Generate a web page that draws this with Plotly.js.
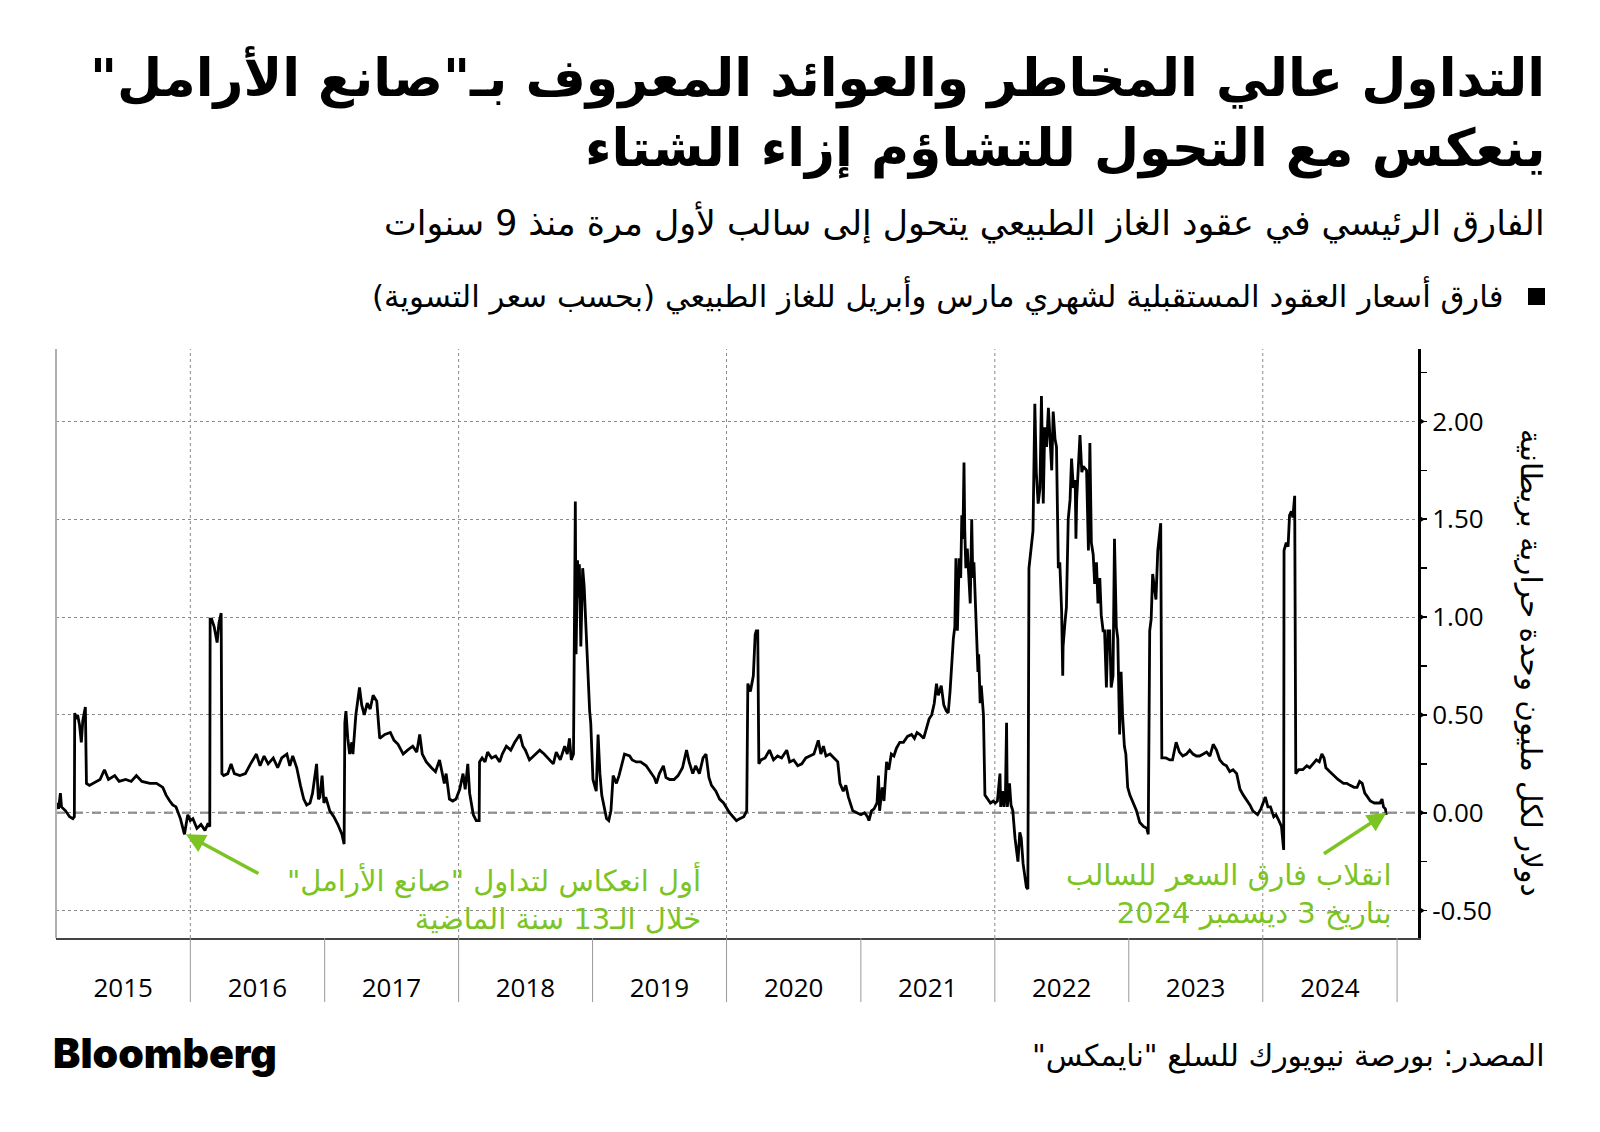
<!DOCTYPE html>
<html><head><meta charset="utf-8">
<script src="https://cdn.plot.ly/plotly-3.0.1.min.js"></script>
<style>html,body{margin:0;padding:0;background:#fff}#chart{width:1600px;height:1132px}</style>
</head><body><div id="chart"></div>
<script>
// Mar-Apr natural gas futures spread (USD / MMBtu)
const y2015 = [['2015-01-02',0.05],['2015-01-07',0.02],['2015-01-12',0.10],['2015-01-15',0.03],['2015-01-26',0.01],['2015-02-06',-0.02],['2015-02-15',-0.03],['2015-02-19',-0.02],['2015-02-20',0.51],['2015-02-23',0.48],['2015-02-28',0.50],['2015-03-05',0.45],['2015-03-10',0.36],['2015-03-14',0.47],['2015-03-21',0.54],['2015-03-24',0.15],['2015-04-01',0.14],['2015-04-19',0.16],['2015-04-30',0.17],['2015-05-12',0.22],['2015-05-23',0.17],['2015-06-09',0.19],['2015-06-21',0.16],['2015-07-09',0.17],['2015-07-24',0.16],['2015-08-07',0.19],['2015-08-22',0.16],['2015-09-13',0.15],['2015-10-01',0.15],['2015-10-18',0.13],['2015-10-27',0.09],['2015-11-06',0.06],['2015-11-14',0.04],['2015-11-23',0.03],['2015-12-05',-0.03],['2015-12-16',-0.11],['2015-12-25',-0.01]];
const y2016 = [['2016-01-01',-0.04],['2016-01-08',-0.03],['2016-01-19',-0.08],['2016-01-30',-0.06],['2016-02-10',-0.09],['2016-02-17',-0.06],['2016-02-23',-0.07],['2016-02-24',0.99],['2016-02-28',0.99],['2016-03-06',0.95],['2016-03-14',0.87],['2016-03-19',0.97],['2016-03-25',1.02],['2016-03-27',0.20],['2016-04-01',0.19],['2016-04-12',0.20],['2016-04-21',0.25],['2016-04-30',0.20],['2016-05-15',0.19],['2016-05-30',0.20],['2016-06-13',0.25],['2016-06-29',0.30],['2016-07-09',0.24],['2016-07-20',0.29],['2016-07-31',0.25],['2016-08-14',0.28],['2016-08-26',0.23],['2016-09-06',0.28],['2016-09-20',0.30],['2016-09-28',0.24],['2016-10-06',0.29],['2016-10-17',0.23],['2016-10-27',0.14],['2016-11-05',0.07],['2016-11-13',0.04],['2016-11-22',0.05],['2016-11-29',0.10],['2016-12-10',0.25],['2016-12-15',0.07],['2016-12-19',0.08],['2016-12-25',0.19],['2016-12-30',0.05]];
const y2017 = [['2017-01-04',0.08],['2017-01-15',0.01],['2017-01-26',-0.02],['2017-02-06',-0.06],['2017-02-17',-0.11],['2017-02-23',-0.16],['2017-02-25',0.46],['2017-02-28',0.52],['2017-03-05',0.38],['2017-03-10',0.30],['2017-03-16',0.36],['2017-03-19',0.30],['2017-03-27',0.50],['2017-04-06',0.64],['2017-04-12',0.55],['2017-04-19',0.50],['2017-04-27',0.56],['2017-05-05',0.53],['2017-05-13',0.60],['2017-05-23',0.57],['2017-05-31',0.38],['2017-06-14',0.40],['2017-06-29',0.41],['2017-07-09',0.37],['2017-07-20',0.35],['2017-08-03',0.30],['2017-08-15',0.32],['2017-08-29',0.34],['2017-09-09',0.31],['2017-09-17',0.40],['2017-09-24',0.30],['2017-10-05',0.26],['2017-10-19',0.23],['2017-10-30',0.21],['2017-11-10',0.27],['2017-11-23',0.15],['2017-11-28',0.20],['2017-12-07',0.07],['2017-12-16',0.06],['2017-12-25',0.07]];
const y2018 = [['2018-01-04',0.12],['2018-01-13',0.20],['2018-01-19',0.12],['2018-01-26',0.25],['2018-01-31',0.10],['2018-02-05',0.04],['2018-02-10',-0.01],['2018-02-18',-0.04],['2018-02-26',-0.04],['2018-02-27',0.26],['2018-03-06',0.28],['2018-03-14',0.26],['2018-03-21',0.31],['2018-04-01',0.28],['2018-04-12',0.29],['2018-04-23',0.26],['2018-04-30',0.30],['2018-05-11',0.34],['2018-05-23',0.32],['2018-06-03',0.36],['2018-06-17',0.40],['2018-06-25',0.34],['2018-07-02',0.32],['2018-07-13',0.27],['2018-07-24',0.29],['2018-08-10',0.32],['2018-08-22',0.30],['2018-09-06',0.27],['2018-09-16',0.25],['2018-09-24',0.31],['2018-10-05',0.27],['2018-10-17',0.34],['2018-10-24',0.30],['2018-10-30',0.38],['2018-11-04',0.27],['2018-11-10',0.30],['2018-11-15',1.59],['2018-11-17',0.81],['2018-11-21',1.29],['2018-11-24',1.10],['2018-11-26',1.27],['2018-11-30',0.85],['2018-12-05',1.25],['2018-12-09',1.16],['2018-12-14',0.95],['2018-12-18',0.70],['2018-12-24',0.52],['2018-12-27',0.46]];
const y2019 = [['2019-01-02',0.17],['2019-01-08',0.13],['2019-01-11',0.11],['2019-01-16',0.40],['2019-01-21',0.20],['2019-01-26',0.09],['2019-01-30',0.05],['2019-02-08',-0.03],['2019-02-14',-0.04],['2019-02-20',0.01],['2019-02-26',0.19],['2019-03-07',0.15],['2019-03-14',0.19],['2019-03-29',0.30],['2019-04-12',0.29],['2019-04-19',0.27],['2019-04-30',0.26],['2019-05-12',0.26],['2019-05-27',0.24],['2019-06-07',0.21],['2019-06-18',0.18],['2019-06-24',0.15],['2019-07-02',0.20],['2019-07-13',0.24],['2019-07-20',0.18],['2019-07-30',0.17],['2019-08-11',0.17],['2019-08-22',0.19],['2019-09-03',0.23],['2019-09-14',0.32],['2019-09-21',0.26],['2019-10-01',0.20],['2019-10-09',0.24],['2019-10-19',0.20],['2019-10-29',0.28],['2019-11-06',0.30],['2019-11-14',0.18],['2019-11-21',0.14],['2019-12-03',0.11],['2019-12-13',0.07],['2019-12-24',0.05]];
const y2020 = [['2020-01-09',0.00],['2020-01-19',-0.02],['2020-01-28',-0.04],['2020-02-06',-0.03],['2020-02-17',-0.02],['2020-02-25',0.01],['2020-02-28',0.66],['2020-03-06',0.62],['2020-03-10',0.66],['2020-03-14',0.70],['2020-03-19',0.91],['2020-03-22',0.93],['2020-03-26',0.93],['2020-03-29',0.25],['2020-04-04',0.27],['2020-04-15',0.28],['2020-04-27',0.32],['2020-05-08',0.27],['2020-05-19',0.29],['2020-05-30',0.28],['2020-06-13',0.32],['2020-06-21',0.26],['2020-07-02',0.27],['2020-07-13',0.24],['2020-07-24',0.25],['2020-08-04',0.28],['2020-08-15',0.29],['2020-08-26',0.30],['2020-09-07',0.37],['2020-09-14',0.30],['2020-09-21',0.34],['2020-09-28',0.29],['2020-10-09',0.30],['2020-10-19',0.28],['2020-10-30',0.26],['2020-11-05',0.15],['2020-11-14',0.11],['2020-11-21',0.14],['2020-11-28',0.08],['2020-12-10',0.01],['2020-12-20',0.00]];
const y2021 = [['2021-01-01',-0.01],['2021-01-11',0.00],['2021-01-19',-0.02],['2021-01-23',-0.04],['2021-01-30',0.01],['2021-02-06',0.02],['2021-02-14',0.05],['2021-02-18',0.19],['2021-02-21',0.01],['2021-02-28',0.13],['2021-03-05',0.06],['2021-03-12',0.26],['2021-03-18',0.22],['2021-03-25',0.30],['2021-04-01',0.29],['2021-04-08',0.33],['2021-04-17',0.36],['2021-04-27',0.36],['2021-05-08',0.39],['2021-05-19',0.40],['2021-05-27',0.38],['2021-06-03',0.41],['2021-06-11',0.40],['2021-06-21',0.38],['2021-06-29',0.44],['2021-07-06',0.48],['2021-07-13',0.50],['2021-07-20',0.56],['2021-07-26',0.66],['2021-07-31',0.60],['2021-08-08',0.65],['2021-08-15',0.55],['2021-08-22',0.52],['2021-08-27',0.51],['2021-09-01',0.62],['2021-09-06',0.80],['2021-09-10',0.89],['2021-09-14',0.95],['2021-09-17',1.30],['2021-09-21',0.93],['2021-09-26',1.30],['2021-09-30',1.20],['2021-10-03',1.52],['2021-10-06',1.40],['2021-10-09',1.79],['2021-10-11',1.45],['2021-10-14',1.25],['2021-10-18',1.35],['2021-10-22',1.18],['2021-10-26',1.07],['2021-10-30',1.50],['2021-11-02',1.20],['2021-11-05',1.28],['2021-11-09',1.05],['2021-11-13',0.79],['2021-11-16',0.72],['2021-11-18',0.81],['2021-11-22',0.56],['2021-11-25',0.65],['2021-11-29',0.55],['2021-12-01',0.50],['2021-12-05',0.09],['2021-12-13',0.07],['2021-12-20',0.05],['2021-12-28',0.06]];
const y2022 = [['2022-01-02',0.05],['2022-01-08',0.06],['2022-01-15',0.20],['2022-01-17',0.03],['2022-01-22',0.11],['2022-01-26',0.03],['2022-01-30',0.10],['2022-02-02',0.46],['2022-02-04',0.03],['2022-02-10',0.15],['2022-02-14',0.04],['2022-02-19',0.01],['2022-02-25',-0.13],['2022-03-05',-0.25],['2022-03-10',-0.10],['2022-03-14',-0.13],['2022-03-19',-0.26],['2022-03-28',-0.38],['2022-04-01',-0.39],['2022-04-04',1.25],['2022-04-10',1.34],['2022-04-15',1.44],['2022-04-20',2.09],['2022-04-24',1.74],['2022-04-29',1.58],['2022-05-04',1.66],['2022-05-08',2.13],['2022-05-13',1.58],['2022-05-17',1.97],['2022-05-22',1.87],['2022-05-27',2.07],['2022-05-31',1.89],['2022-06-05',1.75],['2022-06-09',2.05],['2022-06-14',1.91],['2022-06-18',1.87],['2022-06-23',1.25],['2022-06-27',1.28],['2022-07-02',1.03],['2022-07-05',0.70],['2022-07-06',0.85],['2022-07-11',0.97],['2022-07-15',1.05],['2022-07-20',1.50],['2022-07-25',1.60],['2022-07-29',1.81],['2022-08-03',1.66],['2022-08-08',1.70],['2022-08-10',1.40],['2022-08-12',1.60],['2022-08-17',1.79],['2022-08-21',1.93],['2022-08-26',1.74],['2022-08-30',1.77],['2022-09-08',1.75],['2022-09-13',1.34],['2022-09-17',1.89],['2022-09-21',1.38],['2022-09-26',1.32],['2022-09-30',1.17],['2022-10-05',1.28],['2022-10-09',1.07],['2022-10-14',1.20],['2022-10-18',1.01],['2022-10-23',0.93],['2022-10-27',0.93],['2022-11-01',0.64],['2022-11-05',0.93],['2022-11-10',0.93],['2022-11-14',0.64],['2022-11-19',0.70],['2022-11-23',1.40],['2022-11-28',0.95],['2022-12-02',0.89],['2022-12-07',0.40],['2022-12-11',0.72],['2022-12-15',0.50],['2022-12-20',0.34],['2022-12-24',0.30],['2022-12-29',0.13]];
const y2023 = [['2023-01-04',0.09],['2023-01-13',0.05],['2023-01-22',0.01],['2023-01-31',-0.05],['2023-02-10',-0.07],['2023-02-19',-0.08],['2023-02-23',-0.11],['2023-02-27',0.93],['2023-03-03',0.99],['2023-03-07',1.22],['2023-03-12',1.14],['2023-03-16',1.09],['2023-03-21',1.34],['2023-03-25',1.40],['2023-03-29',1.48],['2023-04-01',0.28],['2023-04-12',0.28],['2023-04-23',0.27],['2023-04-30',0.27],['2023-05-10',0.36],['2023-05-19',0.31],['2023-05-28',0.29],['2023-06-07',0.30],['2023-06-16',0.32],['2023-06-25',0.30],['2023-07-04',0.29],['2023-07-13',0.29],['2023-07-23',0.30],['2023-08-01',0.31],['2023-08-10',0.29],['2023-08-19',0.35],['2023-08-28',0.32],['2023-09-06',0.27],['2023-09-15',0.25],['2023-09-24',0.24],['2023-10-03',0.21],['2023-10-12',0.22],['2023-10-22',0.20],['2023-10-31',0.12],['2023-11-09',0.09],['2023-11-17',0.07],['2023-11-27',0.04],['2023-12-05',0.01],['2023-12-18',-0.01],['2023-12-27',0.02]];
const y2024 = [['2024-01-01',0.05],['2024-01-08',0.08],['2024-01-15',0.03],['2024-01-22',0.03],['2024-01-31',-0.02],['2024-02-06',-0.01],['2024-02-14',-0.04],['2024-02-21',-0.07],['2024-02-27',-0.19],['2024-02-28',1.34],['2024-03-05',1.38],['2024-03-10',1.36],['2024-03-14',1.52],['2024-03-19',1.54],['2024-03-23',1.51],['2024-03-28',1.62],['2024-03-31',0.20],['2024-04-08',0.22],['2024-04-19',0.22],['2024-04-30',0.24],['2024-05-08',0.23],['2024-05-17',0.25],['2024-05-26',0.27],['2024-06-03',0.26],['2024-06-10',0.30],['2024-06-16',0.28],['2024-06-21',0.23],['2024-07-02',0.21],['2024-07-13',0.19],['2024-07-24',0.17],['2024-08-08',0.15],['2024-08-17',0.15],['2024-08-26',0.14],['2024-09-06',0.13],['2024-09-14',0.13],['2024-09-21',0.16],['2024-09-28',0.15],['2024-10-05',0.10],['2024-10-13',0.08],['2024-10-20',0.06],['2024-10-31',0.05],['2024-11-06',0.05],['2024-11-15',0.05],['2024-11-21',0.07],['2024-11-25',0.03],['2024-11-30',0.02],['2024-12-03',-0.01]];

const yearLabels = ['2015','2016','2017','2018','2019','2020','2021','2022','2023','2024'];
const yearMid = ['2015-07-02','2016-07-02','2017-07-02','2018-07-02','2019-07-02','2020-07-02','2021-07-02','2022-07-02','2023-07-02','2024-07-02'];
const yearBounds = ['2016-01-01','2017-01-01','2018-01-01','2019-01-01','2020-01-01','2021-01-01','2022-01-01','2023-01-01','2024-01-01','2025-01-01'];
const vGrid = ['2016-01-01','2018-01-01','2020-01-01','2022-01-01','2024-01-01'];
const yTicks = [-0.5, 0, 0.5, 1, 1.5, 2];
const yTickText = ['-0.50','0.00','0.50','1.00','1.50','2.00'];

const titleLine1 = 'التداول عالي المخاطر والعوائد المعروف بـ"صانع الأرامل"';
const titleLine2 = 'ينعكس مع التحول للتشاؤم إزاء الشتاء';
const subtitle = 'الفارق الرئيسي في عقود الغاز الطبيعي يتحول إلى سالب لأول مرة منذ 9 سنوات';
const legendText = 'فارق أسعار العقود المستقبلية لشهري مارس وأبريل للغاز الطبيعي (بحسب سعر التسوية)';
const yTitle = 'دولار لكل مليون وحدة حرارية بريطانية';
const note1Lines = ['أول انعكاس لتداول "صانع الأرامل"', 'خلال الـ13 سنة الماضية'];
const note2Lines = ['انقلاب فارق السعر للسالب', 'بتاريخ 3 ديسمبر 2024'];
const sourceText = 'المصدر: بورصة نيويورك للسلع "نايمكس"';

const all = [].concat(y2015, y2016, y2017, y2018, y2019, y2020, y2021, y2022, y2023, y2024);
const dates = all.map(p => p[0]);
const spread = all.map(p => p[1]);

// right-to-left embedding so quotes / digits sit in the right place
const rtl = s => '\u202B' + s + '\u202C';
const rtlLines = a => a.map(rtl).join('<br>');

// layout geometry (pixels)
const L = 56, R = 1418, T = 349, B = 938;
const px = x => (x - L) / (R - L);
const py = y => (B - y) / (B - T);

const AR = 'DejaVu Sans, sans-serif';
const GREEN = '#7cc423';

const shapes = [];
vGrid.forEach(d => shapes.push({type:'line', xref:'x', yref:'paper', x0:d, x1:d, y0:0, y1:1, line:{color:'#8a8a8a', width:1, dash:'dot'}, layer:'below'}));
yearBounds.forEach(d => shapes.push({type:'line', xref:'x', yref:'paper', x0:d, x1:d, y0:0, y1:py(1002), line:{color:'#999', width:1}}));
shapes.push({type:'line', xref:'paper', yref:'y', x0:0, x1:1, y0:0, y1:0, line:{color:'#9a9a9a', width:2.5, dash:'dash'}, layer:'below'});
shapes.push({type:'line', xref:'paper', yref:'paper', x0:0, x1:0, y0:0, y1:1, line:{color:'#b0b0b0', width:2}});
yTicks.forEach(v => shapes.push({type:'path', xref:'paper', yref:'y', path:`M 1,${v-0.022} L ${px(1425)},${v} L 1,${v+0.022} Z`, fillcolor:'#000', line:{width:0}}));
shapes.push({type:'rect', xref:'paper', yref:'paper', x0:px(1528), x1:px(1545), y0:py(305), y1:py(288), fillcolor:'#000', line:{width:0}});

const annotations = [
  {xref:'paper', yref:'paper', x:px(1547), y:py(77), xanchor:'right', yanchor:'middle', showarrow:false, text:'<b>'+rtl(titleLine1)+'</b>', font:{family:AR, size:52, color:'#000'}},
  {xref:'paper', yref:'paper', x:px(1547), y:py(149), xanchor:'right', yanchor:'middle', showarrow:false, text:'<b>'+rtl(titleLine2)+'</b>', font:{family:AR, size:52, color:'#000'}},
  {xref:'paper', yref:'paper', x:px(1547), y:py(222), xanchor:'right', yanchor:'middle', showarrow:false, text:rtl(subtitle), font:{family:AR, size:34.8, color:'#000'}},
  {xref:'paper', yref:'paper', x:px(1505), y:py(296), xanchor:'right', yanchor:'middle', showarrow:false, text:rtl(legendText), font:{family:AR, size:30.8, color:'#000'}},
  {xref:'paper', yref:'paper', x:px(1531), y:py(663), xanchor:'center', yanchor:'middle', showarrow:false, textangle:90, text:rtl(yTitle), font:{family:AR, size:29.5, color:'#000'}},
  {xref:'paper', yref:'paper', x:px(703), y:py(898), xanchor:'right', yanchor:'middle', align:'right', showarrow:false, text:rtlLines(note1Lines), font:{family:AR, size:29, color:GREEN}},
  {xref:'paper', yref:'paper', x:px(1393), y:py(894), xanchor:'right', yanchor:'middle', align:'right', showarrow:false, text:rtlLines(note2Lines), font:{family:AR, size:29, color:GREEN}},
  {xref:'x', yref:'y', x:'2015-12-20', y:-0.11, ax:74, ay:40, showarrow:true, arrowhead:2, arrowsize:1.1, arrowwidth:3.5, arrowcolor:GREEN, text:''},
  {xref:'x', yref:'y', x:'2024-12-03', y:0.0, ax:-64, ay:42, showarrow:true, arrowhead:2, arrowsize:1.1, arrowwidth:3.5, arrowcolor:GREEN, text:''},
  {xref:'paper', yref:'paper', x:px(1547), y:py(1056), xanchor:'right', yanchor:'middle', showarrow:false, text:rtl(sourceText), font:{family:AR, size:30, color:'#000'}},
  {xref:'paper', yref:'paper', x:px(51), y:py(1053), xanchor:'left', yanchor:'middle', showarrow:false, text:'Bloomberg', font:{family:'Inter, Roboto, sans-serif', size:41, weight:900, color:'#000'}}
];

const trace = {x:dates, y:spread, type:'scatter', mode:'lines', line:{color:'#000', width:2.8}, hoverinfo:'skip'};

const layout = {
  width:1600, height:1132,
  margin:{l:L, r:1600-R, t:T, b:1132-B, pad:0},
  paper_bgcolor:'#fff', plot_bgcolor:'#fff',
  showlegend:false,
  xaxis:{type:'date', range:['2014-12-31','2025-02-27'], tickmode:'array', tickvals:yearMid, ticktext:yearLabels,
    ticks:'outside', ticklen:26, tickcolor:'rgba(0,0,0,0)', showgrid:false, zeroline:false,
    showline:true, linecolor:'#444', linewidth:2, tickfont:{family:'Open Sans, sans-serif', size:26, color:'#000'}},
  yaxis:{side:'right', range:[-0.64, 2.37], tickmode:'array', tickvals:yTicks, ticktext:yTickText,
    ticks:'outside', ticklen:6, tickwidth:1.5, tickcolor:'#000',
    minor:{dtick:0.25, tick0:0, ticks:'outside', ticklen:6, tickwidth:1.5, tickcolor:'#000', showgrid:false},
    showgrid:true, gridcolor:'#8a8a8a', griddash:'dot', gridwidth:1, zeroline:false,
    showline:true, linecolor:'#000', linewidth:3, tickfont:{family:'Open Sans, sans-serif', size:26, color:'#000'}},
  shapes:shapes, annotations:annotations
};

Plotly.newPlot('chart', [trace], layout, {staticPlot:true, displayModeBar:false});
</script></body></html>
